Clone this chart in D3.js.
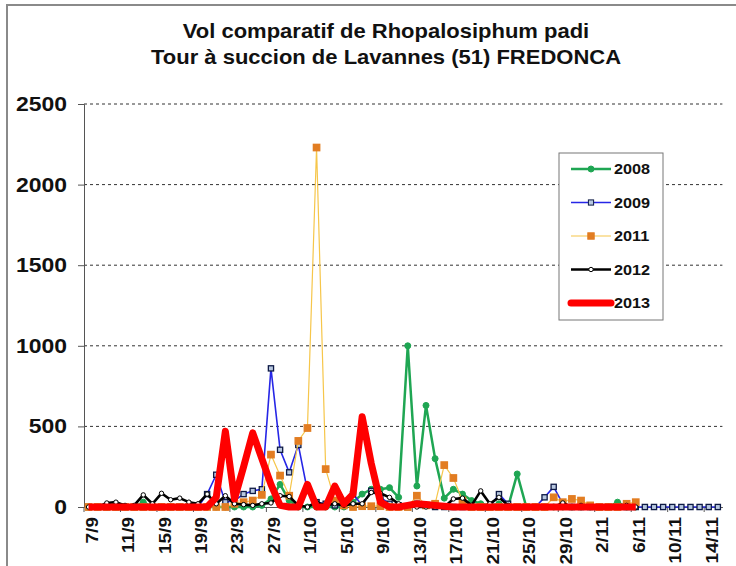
<!DOCTYPE html>
<html>
<head>
<meta charset="utf-8">
<script src="https://cdn.jsdelivr.net/npm/d3@7"></script>
<style>
  body { margin: 0; background: #fff; }
  text { font-family: "Liberation Sans", Arial, sans-serif; font-weight: bold; fill: #111; }
</style>
</head>
<body>
<div id="chart"></div>
<script>
// Category labels (one per day, 7/9 -> 15/11)
const days = [
  "7/9","8/9","9/9","10/9","11/9","12/9","13/9","14/9","15/9","16/9","17/9","18/9","19/9","20/9",
  "21/9","22/9","23/9","24/9","25/9","26/9","27/9","28/9","29/9","30/9",
  "1/10","2/10","3/10","4/10","5/10","6/10","7/10","8/10","9/10","10/10","11/10","12/10","13/10",
  "14/10","15/10","16/10","17/10","18/10","19/10","20/10","21/10","22/10","23/10","24/10","25/10",
  "26/10","27/10","28/10","29/10","30/10","31/10",
  "1/11","2/11","3/11","4/11","5/11","6/11","7/11","8/11","9/11","10/11","11/11","12/11","13/11",
  "14/11","15/11"
];

// Series values (daily captures)
const y2008 = [0,0,0,0,0,0,30,0,0,0,0,0,0,0,0,0,0,0,0,10,50,140,40,0,0,0,0,0,0,30,
  80,110,110,120,60,1000,130,630,300,55,110,80,40,20,10,20,0,205,0,0,0,0,0,0,0,0,0,0,30,0,0];
const y2009 = [0,0,0,0,0,0,0,0,0,0,0,0,0,80,200,30,40,80,100,110,860,355,215,385,100,30,20,10,10,80,
  10,100,60,20,10,0,20,10,0,0,0,0,0,0,0,80,20,0,0,0,60,125,20,0,0,0,0,0,0,0,0,
  0,0,0,0,0,0,0,0,0];
const y2011 = [0,0,0,0,0,0,0,0,0,0,0,0,0,0,0,0,20,30,40,75,325,195,70,410,490,2230,235,40,10,0,
  5,5,5,0,0,0,70,10,20,260,180,40,0,0,0,0,0,0,0,0,0,60,30,50,40,10,0,0,0,20,30];
const y2012 = [0,0,25,30,10,10,75,20,85,45,55,30,20,80,20,70,20,15,10,20,25,70,65,10,0,30,10,20,10,20,
  20,90,85,60,20,10,0,0,0,0,50,55,10,100,20,60,10,0,0,0,0,0,25,0,10,0,0,0,0,10,0];
const y2013 = [0,0,0,0,0,0,0,0,0,0,0,0,0,0,60,470,50,250,460,300,140,10,0,0,140,0,0,130,20,80,
  560,270,30,0,0,10,20,15,10,5,0,0,0,0,0,0,0,0,0,0,0,0,0,0,0,0,0,0,0,0,0];

const years = ["2008", "2009", "2011", "2012", "2013"];
const seriesValues = [y2008, y2009, y2011, y2012, y2013];
const yTicks = [0, 500, 1000, 1500, 2000, 2500];

// Styles per year
const styles = {
  "2008": { line: "#1fa653", width: 2.5, marker: "circle", r: 3, fill: "#1fa653", stroke: "#1fa653" },
  "2009": { line: "#2626e6", width: 1.6, marker: "square", r: 2.6, fill: "#b8c8e0", stroke: "#0e1a45" },
  "2011": { line: "#f6c64a", width: 1.2, marker: "square", r: 3.2, fill: "#e27d22", stroke: "#e27d22" },
  "2012": { line: "#000000", width: 2.6, marker: "circle", r: 2.2, fill: "#ffffff", stroke: "#000" },
  "2013": { line: "#ff0000", width: 7, marker: null }
};

const width = 736, height = 566;
const margin = { top: 104, left: 84, bottom: 59 };
const stretch = 1.12; // text in the picture is a bit wide

const svg = d3.select("#chart").append("svg")
  .attr("width", width)
  .attr("height", height);

// Outer frame
svg.append("rect")
  .attr("x", 7).attr("y", 5)
  .attr("width", 740).attr("height", 580)
  .attr("fill", "none")
  .attr("stroke", "#8a8a8a")
  .attr("stroke-width", 2);

// Scales
const x = d3.scaleBand()
  .domain(days)
  .range([margin.left, margin.left + days.length * 9.12]);
const cx = d => x(d) + x.bandwidth() / 2;

const y = d3.scaleLinear()
  .domain([0, 2500])
  .range([height - margin.bottom, margin.top]);

// Title
const titles = ["Vol comparatif de Rhopalosiphum padi", "Tour à succion de Lavannes (51) FREDONCA"];
titles.forEach((t, i) => {
  svg.append("g")
    .attr("transform", `translate(386,${38 + i * 26}) scale(1.1,1)`)
    .append("text")
    .attr("text-anchor", "middle")
    .style("font-size", "20px")
    .text(t);
});

// Horizontal dashed grid
svg.append("g")
  .selectAll("line")
  .data(yTicks.filter(v => v > 0))
  .join("line")
  .attr("x1", margin.left)
  .attr("x2", x.range()[1])
  .attr("y1", d => y(d))
  .attr("y2", d => y(d))
  .attr("stroke", "#333")
  .attr("stroke-width", 1)
  .attr("stroke-dasharray", "3,3");

// Y axis
const yAxis = svg.append("g")
  .attr("transform", `translate(${margin.left},0)`)
  .call(d3.axisLeft(y).tickValues(yTicks).tickSize(6).tickFormat(""));
yAxis.select(".domain").attr("stroke", "#555");
yAxis.selectAll(".tick line").attr("stroke", "#555");

yTicks.forEach(v => {
  svg.append("g")
    .attr("transform", `translate(67,${y(v) + 7}) scale(${stretch},1)`)
    .append("text")
    .attr("text-anchor", "end")
    .style("font-size", "20.5px")
    .text(v);
});

// X axis (ticks between categories, every 4 days)
const xAxis = svg.append("g")
  .attr("transform", `translate(0,${y(0)})`)
  .call(d3.axisBottom(x).tickValues([]).tickSizeOuter(0));
xAxis.select(".domain").attr("stroke", "#555");

svg.append("g")
  .selectAll("line")
  .data(days.filter((d, i) => i % 4 === 0))
  .join("line")
  .attr("x1", d => x(d))
  .attr("x2", d => x(d))
  .attr("y1", y(0))
  .attr("y2", y(0) + 5)
  .attr("stroke", "#555");

days.forEach((d, i) => {
  if (i % 4 !== 0 || i > 68) return;
  svg.append("g")
    .attr("transform", `translate(${cx(d) + 9},${y(0) + 10}) rotate(-90) scale(${stretch},1)`)
    .append("text")
    .attr("text-anchor", "end")
    .style("font-size", "17px")
    .text(d);
});

// Lines and markers
const line = d3.line()
  .x((v, i) => cx(days[i]))
  .y(v => y(v));

years.forEach((yr, k) => {
  const s = styles[yr];
  const vals = seriesValues[k];
  const g = svg.append("g");

  g.append("path")
    .datum(vals)
    .attr("fill", "none")
    .attr("stroke", s.line)
    .attr("stroke-width", s.width)
    .attr("stroke-linejoin", "round")
    .attr("d", line);

  if (s.marker === "circle") {
    g.selectAll("circle")
      .data(vals)
      .join("circle")
      .attr("cx", (v, i) => cx(days[i]))
      .attr("cy", v => y(v))
      .attr("r", s.r)
      .attr("fill", s.fill)
      .attr("stroke", s.stroke)
      .attr("stroke-width", 1);
  } else if (s.marker === "square") {
    g.selectAll("rect")
      .data(vals)
      .join("rect")
      .attr("x", (v, i) => cx(days[i]) - s.r)
      .attr("y", v => y(v) - s.r)
      .attr("width", s.r * 2)
      .attr("height", s.r * 2)
      .attr("fill", s.fill)
      .attr("stroke", s.stroke)
      .attr("stroke-width", 1.3);
  }
});

// Legend
const legend = svg.append("g").attr("transform", "translate(559,153)");
legend.append("rect")
  .attr("width", 104)
  .attr("height", 167)
  .attr("fill", "#fff")
  .attr("stroke", "#777");

years.forEach((yr, i) => {
  const s = styles[yr];
  const ly = 16 + i * 33.5;
  legend.append("line")
    .attr("x1", 12).attr("x2", 52)
    .attr("y1", ly).attr("y2", ly)
    .attr("stroke", s.line)
    .attr("stroke-width", s.width)
    .attr("stroke-linecap", yr === "2013" ? "round" : "butt");
  if (s.marker === "circle") {
    legend.append("circle")
      .attr("cx", 32).attr("cy", ly).attr("r", s.r)
      .attr("fill", s.fill).attr("stroke", s.stroke);
  } else if (s.marker === "square") {
    legend.append("rect")
      .attr("x", 32 - s.r).attr("y", ly - s.r)
      .attr("width", s.r * 2).attr("height", s.r * 2)
      .attr("fill", s.fill).attr("stroke", s.stroke);
  }
  legend.append("g")
    .attr("transform", `translate(55,${ly + 5}) scale(${stretch},1)`)
    .append("text")
    .style("font-size", "14.5px")
    .text(yr);
});
</script>
</body>
</html>
